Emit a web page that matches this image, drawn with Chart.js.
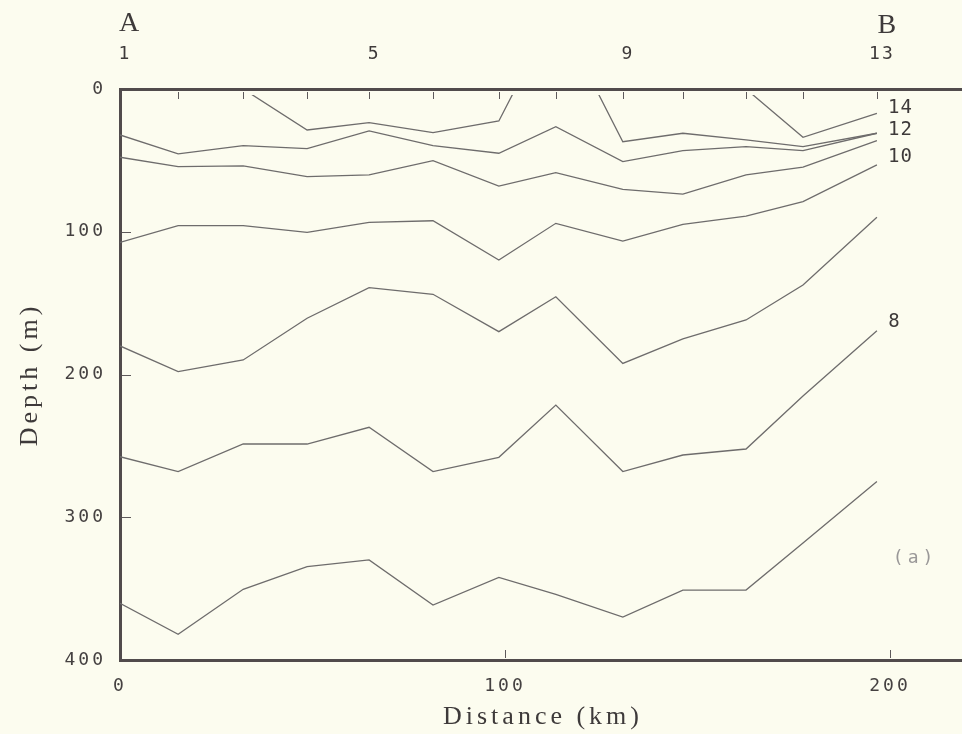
<!DOCTYPE html>
<html>
<head>
<meta charset="utf-8">
<script src="https://cdn.jsdelivr.net/npm/chart.js@4.4.1/dist/chart.umd.min.js"></script>
<style>
  html, body { margin: 0; padding: 0; background: #fcfcef; }
  #wrap { width: 962px; height: 734px; }
</style>
</head>
<body>
<div id="wrap"><canvas id="section" width="962" height="734"></canvas></div>
<script>
// station positions along section A-B (km)
const stationKm = [0, 15.1, 32.0, 48.6, 64.7, 81.3, 98.4, 113.2, 130.6, 146.2, 162.6, 177.4, 196.6];
const stationNames = ['1', '', '', '', '5', '', '', '', '9', '', '', '', '13'];

// isotherm depths (m) at each station, null where the isotherm is not present
const iso14 = [null, null, null, null, null, null, null, null, null, null, 0, 33.8, 17];
const iso13 = [null, null, 0, 28.7, 23.6, 30.6, 22.4, -55, 36.9, 31, 35.7, 40.4, 31];
const iso12 = [32.2, 45.5, 39.7, 41.8, 29.4, 39.7, 45, 26.4, 50.9, 43.2, 40.4, 43.2, 31];
const iso11 = [47.8, 54.4, 53.9, 61.4, 60.2, 50.2, 68, 58.6, 70.3, 73.6, 60.2, 54.8, 36.2];
const iso10 = [107.5, 95.7, 95.7, 100.4, 93.4, 92.3, 119.8, 94.1, 106.5, 94.8, 89, 78.9, 53.2];
const iso9 = [180, 198, 189.8, 160.6, 139.2, 143.8, 170, 145.5, 192.2, 175.1, 161.8, 137.3, 89.9];
const iso8 = [257.6, 268, 248.7, 248.7, 237, 268, 258, 221.4, 268, 256.4, 252.2, 215, 169.3];
const iso7 = [360.3, 382, 350.5, 334.6, 329.9, 361.5, 342.1, 354, 370, 351, 351, 318, 275];

const xTicks = [0, 100, 200];
const yTicks = [0, 100, 200, 300, 400];

const series = [
  { name: '14', values: iso14 },
  { name: '13', values: iso13 },
  { name: '12', values: iso12 },
  { name: '11', values: iso11 },
  { name: '10', values: iso10 },
  { name: '9', values: iso9 },
  { name: '8', values: iso8 },
  { name: '7', values: iso7 }
];

// which isotherms get a number at the right-hand end
const endLabels = [
  { text: '14', values: iso14, dx: 23, dy: -5 },
  { text: '12', values: iso12, dx: 23, dy: -3 },
  { text: '10', values: iso10, dx: 23, dy: -8 },
  { text: '8', values: iso8, dx: 17, dy: -9 }
];

const axisColor = '#514b4c';
const inkColor = '#3e3a3a';
const mono = 'DejaVu Sans Mono';
const serif = 'Liberation Serif';

function drawText(ctx, s, x, y, font, spacing, color, rot) {
  ctx.save();
  ctx.font = font;
  ctx.letterSpacing = spacing + 'px';
  ctx.fillStyle = color;
  ctx.textAlign = 'center';
  ctx.textBaseline = 'middle';
  ctx.translate(x + spacing / 2, y);
  if (rot) ctx.rotate(rot);
  ctx.fillText(s, 0, 0);
  ctx.restore();
}

const decor = {
  id: 'decor',
  beforeDraw(chart) {
    chart.ctx.letterSpacing = '3px';
  },
  afterDraw(chart) {
    const ctx = chart.ctx;
    const a = chart.chartArea;
    const x = chart.scales.x;
    const y = chart.scales.y;

    ctx.save();
    ctx.strokeStyle = '#5e595a';
    ctx.lineWidth = 1;
    ctx.beginPath();
    stationKm.slice(1).forEach(k => {
      const px = Math.round(x.getPixelForValue(k)) + 0.5;
      ctx.moveTo(px, a.top + 3);
      ctx.lineTo(px, a.top + 10);
    });
    yTicks.slice(1, -1).forEach(v => {
      const py = Math.round(y.getPixelForValue(v)) + 0.5;
      ctx.moveTo(a.left + 2, py);
      ctx.lineTo(a.left + 11, py);
    });
    xTicks.slice(1).forEach(v => {
      const px = Math.round(x.getPixelForValue(v)) + 0.5;
      ctx.moveTo(px, a.bottom - 2);
      ctx.lineTo(px, a.bottom - 10);
    });
    ctx.stroke();
    ctx.restore();

    // station numbers and section ends
    stationNames.forEach((n, i) => {
      if (n) drawText(ctx, n, x.getPixelForValue(stationKm[i]) + 4, 54, '18px "' + mono + '"', 2, inkColor);
    });
    drawText(ctx, 'A', x.getPixelForValue(stationKm[0]) + 9, 24, '28px "' + serif + '"', 0, inkColor);
    drawText(ctx, 'B', x.getPixelForValue(stationKm[12]) + 10, 26, '28px "' + serif + '"', 0, inkColor);

    // isotherm numbers
    endLabels.forEach(l => {
      const last = l.values.length - 1;
      drawText(ctx, l.text, x.getPixelForValue(stationKm[last]) + l.dx, y.getPixelForValue(l.values[last]) + l.dy,
        '19px "' + mono + '"', 1, inkColor);
    });
    drawText(ctx, '(a)', x.getPixelForValue(206), y.getPixelForValue(329), '18px "' + mono + '"', 4, '#9a9898');

    // axis titles
    drawText(ctx, 'Distance (km)', (a.left + a.right) / 2, 717, '26px "' + serif + '"', 4, inkColor);
    drawText(ctx, 'Depth (m)', 28, (a.top + a.bottom) / 2, '26px "' + serif + '"', 4, inkColor, -Math.PI / 2);

    ctx.letterSpacing = '0px';
  }
};

new Chart(document.getElementById('section'), {
  type: 'line',
  data: {
    datasets: series.map(s => ({
      label: s.name,
      data: s.values.map((d, i) => ({ x: stationKm[i], y: d })),
      borderColor: '#6e6c6c',
      borderWidth: 1.3,
      pointRadius: 0,
      fill: false,
      tension: 0,
      clip: { left: 0, top: -6, right: 0, bottom: 0 }
    }))
  },
  options: {
    responsive: false,
    animation: false,
    devicePixelRatio: 1,
    layout: { padding: 0 },
    plugins: { legend: { display: false }, tooltip: { enabled: false } },
    scales: {
      x: {
        type: 'linear', position: 'bottom', min: 0, max: 218.7,
        afterBuildTicks: s => { s.ticks = xTicks.map(v => ({ value: v })); },
        afterFit: s => { s.height = 74; },
        grid: { display: false, drawTicks: false },
        border: { display: true, color: axisColor, width: 3 },
        ticks: { padding: 16, color: '#454141', maxRotation: 0, autoSkip: false,
                 font: { family: mono, size: 18 } }
      },
      xTop: {
        type: 'linear', position: 'top', min: 0, max: 218.7,
        afterFit: s => { s.height = 89; },
        grid: { display: false, drawTicks: false },
        border: { display: true, color: axisColor, width: 3 },
        ticks: { display: false }
      },
      y: {
        type: 'linear', position: 'left', reverse: true, min: 0, max: 400,
        afterBuildTicks: s => { s.ticks = yTicks.map(v => ({ value: v })); },
        afterFit: s => { s.width = 120; },
        grid: { display: false, drawTicks: false },
        border: { display: true, color: axisColor, width: 3 },
        ticks: { padding: 14, color: '#454141', font: { family: mono, size: 18 } }
      }
    }
  },
  plugins: [decor]
});
</script>
</body>
</html>
